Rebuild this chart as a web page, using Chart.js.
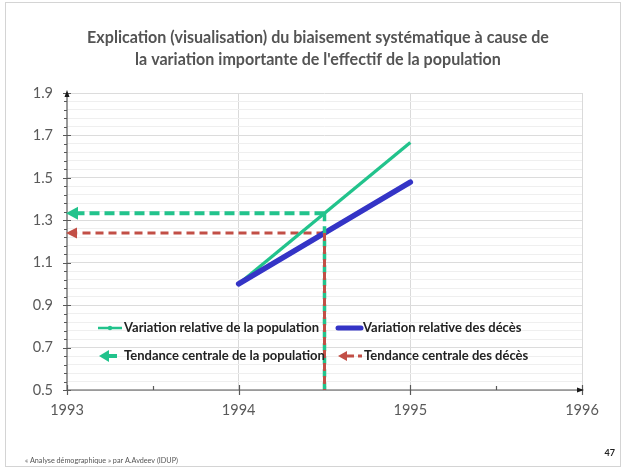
<!DOCTYPE html>
<html>
<head>
<meta charset="utf-8">
<script src="https://cdn.jsdelivr.net/npm/chart.js@4.4.1/dist/chart.umd.min.js"></script>
<style>
  html, body { margin: 0; padding: 0; background: #ffffff; }
  #wrap { position: relative; width: 621px; height: 468px; }
</style>
</head>
<body>
<div id="wrap"><canvas id="c" width="621" height="468"></canvas></div>
<script>
// ---- data ----
const titleLines = [
  "Explication (visualisation) du biaisement systématique à cause de",
  "la variation importante de l'effectif de la population"
];
const seriesNames = [
  "Variation relative de la population",
  "Variation relative des décès",
  "Tendance centrale de la population",
  "Tendance centrale des décès"
];
const years = [1994, 1995];
const popRel = [1.0, 1.667];
const deathRel = [1.0, 1.48];
const midYear = 1994.5;
const popTrend = 1.333;
const deathTrend = 1.24;
const xRange = [1993, 1996];
const yRange = [0.5, 1.9];
const yMajorStep = 0.2;
const yMinorStep = 0.04;
const footerText = "« Analyse démographique » par A.Avdeev (IDUP)";
const pageNumber = "47";

// ---- styles ----
const GREEN = '#22C38C';
const BLUE = '#3434C6';
const RED = '#C24F46';
const AXIS = '#595959';
const FONT = 'Lato, "Open Sans", sans-serif';

const pts = (xs, ys) => xs.map((x, i) => ({ x, y: ys[i] }));
const isMajorY = v => Math.abs((v - yRange[0]) / yMajorStep - Math.round((v - yRange[0]) / yMajorStep)) < 1e-6;
const isWholeYear = v => Math.abs(v - Math.round(v)) < 1e-6;

// font size that makes text span a given width
function fitFont(ctx, text, width, weight) {
  ctx.font = weight + ' 20px ' + FONT;
  const w = ctx.measureText(text).width;
  return weight + ' ' + (20 * width / w).toFixed(2) + 'px ' + FONT;
}

function arrowLeft(ctx, x, y, len, half, color) {
  ctx.fillStyle = color;
  ctx.beginPath();
  ctx.moveTo(x, y);
  ctx.lineTo(x + len, y - half);
  ctx.lineTo(x + len, y + half);
  ctx.closePath();
  ctx.fill();
}

// axes lines, arrows and tick marks
const axesPlugin = {
  id: 'axesLines',
  beforeDatasetsDraw(chart) {
    const { ctx, chartArea: a, scales: { x, y } } = chart;
    ctx.save();
    ctx.strokeStyle = AXIS;
    ctx.lineWidth = 1.2;
    ctx.beginPath();
    ctx.moveTo(a.left, a.bottom); ctx.lineTo(a.right, a.bottom);
    ctx.moveTo(a.left, a.bottom); ctx.lineTo(a.left, a.top);
    // y tick marks
    for (let v = yRange[0]; v <= yRange[1] + 1e-9; v += yMinorStep) {
      const py = Math.round(y.getPixelForValue(v)) + 0.5;
      if (isMajorY(v)) { ctx.moveTo(a.left - 4, py); ctx.lineTo(a.left + 4, py); }
      else { ctx.moveTo(a.left - 3, py); ctx.lineTo(a.left, py); }
    }
    // x tick marks
    for (let v = xRange[0]; v <= xRange[1] + 1e-9; v += 0.5) {
      const px = Math.round(x.getPixelForValue(v)) + 0.5;
      if (isWholeYear(v)) { ctx.moveTo(px, a.bottom - 5); ctx.lineTo(px, a.bottom + 5); }
      else { ctx.moveTo(px, a.bottom - 4); ctx.lineTo(px, a.bottom); }
    }
    ctx.stroke();
    ctx.fillStyle = '#1a1a1a';
    ctx.beginPath();
    ctx.moveTo(a.left, a.top - 3); ctx.lineTo(a.left - 2.5, a.top + 4); ctx.lineTo(a.left + 2.5, a.top + 4);
    ctx.closePath(); ctx.fill();
    ctx.beginPath();
    ctx.moveTo(a.right + 2, a.bottom); ctx.lineTo(a.right - 5, a.bottom - 2.5); ctx.lineTo(a.right - 5, a.bottom + 2.5);
    ctx.closePath(); ctx.fill();
    ctx.restore();
  }
};

// arrowheads on the trend lines, legend, title, frame and footer
const decorPlugin = {
  id: 'decor',
  afterDatasetsDraw(chart) {
    const { ctx, scales: { x, y } } = chart;
    const x0 = x.getPixelForValue(xRange[0]);
    arrowLeft(ctx, x0 - 1, y.getPixelForValue(popTrend), 12, 6.5, GREEN);
    arrowLeft(ctx, x0 - 1, y.getPixelForValue(deathTrend), 11, 5.5, RED);
  },
  afterDraw(chart) {
    const { ctx, chartArea: a } = chart;
    ctx.save();
    // frame
    ctx.strokeStyle = '#d4d4d4';
    ctx.lineWidth = 1;
    ctx.strokeRect(5.5, 2.5, 615, 464);

    // title
    ctx.fillStyle = '#545454';
    ctx.textAlign = 'center';
    ctx.textBaseline = 'middle';
    ctx.font = fitFont(ctx, titleLines[0], 462, 'bold');
    ctx.fillText(titleLines[0], 318, 38);
    ctx.fillText(titleLines[1], 318, 60);

    // legend
    const r1 = 328, r2 = 356;
    const c1 = a.left + 31, c2 = a.left + 269;
    ctx.textAlign = 'left';
    ctx.fillStyle = '#222222';
    ctx.font = fitFont(ctx, seriesNames[0], 195, 'bold');
    ctx.fillText(seriesNames[0], c1 + 26, r1);
    ctx.fillText(seriesNames[1], c2 + 27, r1);
    ctx.fillText(seriesNames[2], c1 + 26, r2);
    ctx.fillText(seriesNames[3], c2 + 28, r2);

    ctx.lineCap = 'butt';
    ctx.strokeStyle = GREEN; ctx.lineWidth = 2.5;
    ctx.beginPath(); ctx.moveTo(c1, r1); ctx.lineTo(c1 + 24, r1); ctx.stroke();
    ctx.fillStyle = GREEN;
    ctx.beginPath(); ctx.arc(c1 + 12, r1, 2.2, 0, Math.PI * 2); ctx.fill();

    ctx.strokeStyle = BLUE; ctx.lineWidth = 5; ctx.lineCap = 'round';
    ctx.beginPath(); ctx.moveTo(c2 + 2, r1); ctx.lineTo(c2 + 25, r1); ctx.stroke();
    ctx.lineCap = 'butt';

    ctx.strokeStyle = GREEN; ctx.lineWidth = 4;
    ctx.beginPath(); ctx.moveTo(c1 + 8, r2); ctx.lineTo(c1 + 19, r2); ctx.stroke();
    arrowLeft(ctx, c1 + 1, r2, 10, 6, GREEN);

    ctx.strokeStyle = RED; ctx.lineWidth = 3;
    ctx.beginPath(); ctx.moveTo(c2 + 10, r2); ctx.lineTo(c2 + 18, r2);
    ctx.moveTo(c2 + 22, r2); ctx.lineTo(c2 + 26, r2); ctx.stroke();
    arrowLeft(ctx, c2 + 2, r2, 9, 5, RED);

    // footer
    ctx.fillStyle = '#555555';
    ctx.textBaseline = 'middle';
    ctx.font = fitFont(ctx, footerText, 153, 'normal');
    ctx.fillText(footerText, 25, 461);
    ctx.fillStyle = '#222222';
    ctx.font = 'bold 9px ' + FONT;
    ctx.textAlign = 'right';
    ctx.fillText(pageNumber, 615, 453);
    ctx.restore();
  }
};

const lineDs = (label, data, color, width, dash, extra) => Object.assign({
  label, data, showLine: true, borderColor: color, backgroundColor: color,
  borderWidth: width, borderDash: dash || [], pointRadius: 0, pointHoverRadius: 0,
  tension: 0, borderCapStyle: 'butt'
}, extra || {});

new Chart(document.getElementById('c'), {
  type: 'scatter',
  data: {
    datasets: [
      // first listed is drawn on top
      lineDs(seriesNames[3], [{ x: midYear, y: deathTrend }, { x: midYear, y: yRange[0] }], RED, 3, [8, 5]),
      lineDs(seriesNames[2], [{ x: midYear, y: popTrend }, { x: midYear, y: yRange[0] }], GREEN, 3.5, [8, 5]),
      lineDs(seriesNames[1], pts(years, deathRel), BLUE, 5.5, null, { borderCapStyle: 'round' }),
      lineDs(seriesNames[0], pts(years, popRel), GREEN, 3.3),
      lineDs(seriesNames[3], [{ x: midYear, y: deathTrend }, { x: xRange[0] + 0.06, y: deathTrend }], RED, 3, [8, 5]),
      lineDs(seriesNames[2], [{ x: midYear, y: popTrend }, { x: xRange[0] + 0.06, y: popTrend }], GREEN, 4, [10, 5])
    ]
  },
  options: {
    responsive: false,
    animation: false,
    events: [],
    layout: { padding: { top: 93, left: 0, right: 39, bottom: 0 } },
    plugins: { legend: { display: false }, title: { display: false }, tooltip: { enabled: false } },
    scales: {
      x: {
        type: 'linear', min: xRange[0], max: xRange[1],
        afterFit: s => { s.height = 78; },
        border: { display: false },
        grid: {
          drawTicks: false,
          color: c => (isWholeYear(c.tick.value) && c.tick.value !== xRange[0]) ? '#dadada' : 'rgba(0,0,0,0)',
          lineWidth: 1
        },
        ticks: {
          stepSize: 0.5, autoSkip: false, maxRotation: 0, padding: 12,
          color: AXIS, font: { family: FONT, size: 14.5 },
          callback: v => isWholeYear(v) ? String(Math.round(v)) : ''
        }
      },
      y: {
        type: 'linear', min: yRange[0], max: yRange[1],
        afterFit: s => { s.width = 67; },
        border: { display: false },
        grid: {
          drawTicks: false,
          color: c => isMajorY(c.tick.value) ? '#dcdcdc' : '#efefef',
          lineWidth: 1
        },
        ticks: {
          stepSize: yMinorStep, autoSkip: false, padding: 14,
          color: AXIS, font: { family: FONT, size: 14.5 },
          callback: v => isMajorY(v) ? v.toFixed(1) : ''
        }
      }
    }
  },
  plugins: [axesPlugin, decorPlugin]
});
</script>
</body>
</html>
